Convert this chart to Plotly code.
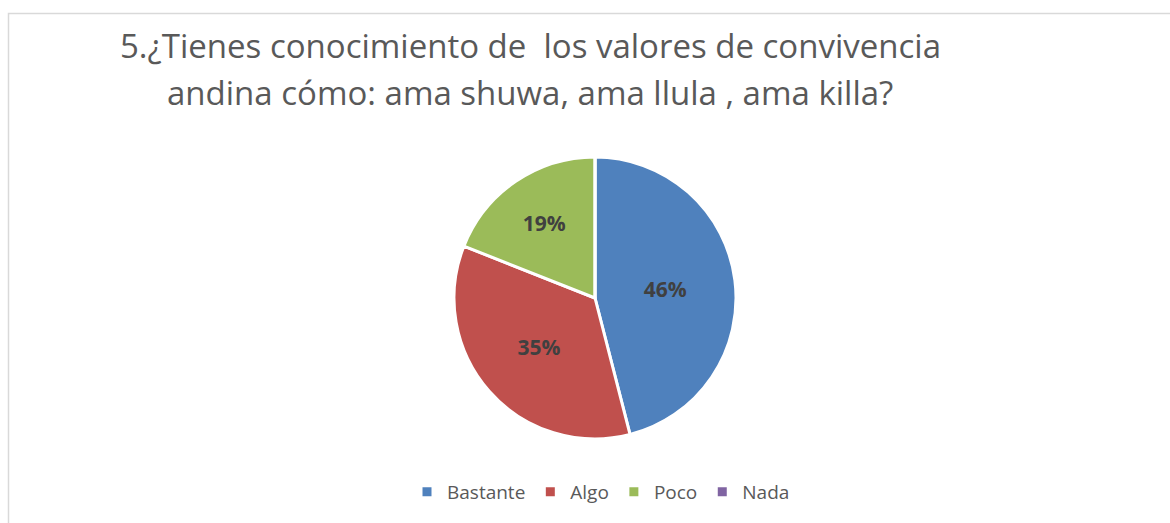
import plotly.graph_objects as go

# datos de la pregunta 5
categorias = ["Bastante", "Algo", "Poco", "Nada"]
porcentajes = [46, 35, 19, 0]
colores = ["#4F81BD", "#C0504D", "#9BBB59", "#8064A2"]

titulo_1 = "5.¿Tienes conocimiento de  los valores de convivencia"
titulo_2 = "andina cómo: ama shuwa, ama llula , ama killa?"

W, H = 1170, 523

fig = go.Figure()
fig.add_trace(go.Pie(
    labels=categorias,
    values=porcentajes,
    marker=dict(colors=colores, line=dict(color="white", width=3)),
    sort=False,
    direction="clockwise",
    rotation=0,
    textinfo="percent",
    texttemplate="%{percent:.0%}",
    textposition="inside",
    insidetextorientation="horizontal",
    textfont=dict(family="Open Sans", size=21, color="#404040", weight="bold"),
    domain=dict(x=[(595 - 141) / W, (595 + 141) / W], y=[1 - 439 / H, 1 - 157 / H]),
    hoverinfo="label+percent",
))

# titulo en dos lineas separadas para controlar el interlineado
for txt, yy in [(titulo_1, 45), (titulo_2, 93)]:
    fig.add_annotation(text=txt, x=530 / W, y=1 - yy / H, xref="paper", yref="paper",
                       xanchor="center", yanchor="middle", showarrow=False,
                       font=dict(family="Open Sans", size=33, color="#595959"))

# marco del grafico
fig.add_shape(type="rect", xref="paper", yref="paper",
              x0=8.5 / W, x1=1.01, y0=-0.05, y1=1 - 13.5 / H,
              line=dict(color="#D9D9D9", width=1.5))

fig.update_layout(
    width=W, height=H,
    margin=dict(l=0, r=0, t=0, b=0),
    paper_bgcolor="white",
    plot_bgcolor="white",
    showlegend=True,
    legend=dict(orientation="h", x=601 / W, xanchor="center", y=1 - 492 / H, yanchor="middle",
                font=dict(family="Open Sans", size=19, color="#595959"),
                itemwidth=30, traceorder="normal"),
)

# quitar el margen del body para que el grafico quede en (0,0)
fig.write_html("out.html", config={"displayModeBar": False},
               post_script="document.body.style.margin='0px';")
